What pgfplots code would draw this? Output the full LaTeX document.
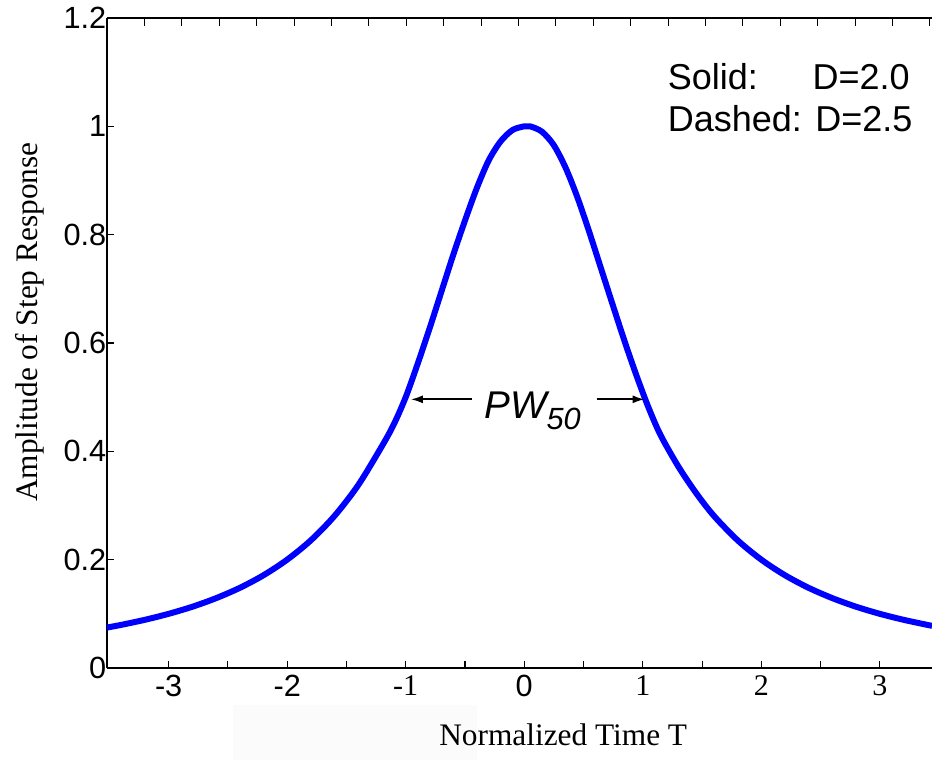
\documentclass[border=0pt]{standalone}
\usepackage{fontspec}
\setmainfont{Liberation Serif}
\setsansfont{Liberation Sans}
\usepackage{pgfplots}
\pgfplotsset{compat=1.18}
\usetikzlibrary{arrows.meta}

\newcommand{\tks}[1]{{\sffamily\fontsize{23}{23}\selectfont #1}}
\newcommand{\tkr}[1]{{\rmfamily\fontsize{22.5}{22.5}\selectfont #1}}

\begin{document}
\begin{tikzpicture}
\useasboundingbox (-80.25pt,-69pt) rectangle (618.75pt,501pt);
% faint grey patch under the x label
\fill[black!1.5] (94.5pt,-27.75pt) rectangle (277.5pt,-69pt);

\begin{axis}[
  scale only axis,
  width=618.75pt, height=487.5pt,
  xmin=-3.52, xmax=3.44,
  ymin=0, ymax=1.2,
  axis x line*=bottom, axis y line*=left,
  axis line style={-, line width=1.2pt},
  tick align=inside,
  major tick length=5pt,
  tick style={black, line width=0.8pt},
  xtick={-3,-2.5,...,3},
  xticklabels={\tks{-3},,\tks{-2},,\tkr{-1},,\tks{0},,\tkr{1},,\tkr{2},,\tkr{3}},
  ytick={0,0.2,0.4,0.6,0.8,1,1.2},
  yticklabels={\tks{0},\tks{0.2},\tks{0.4},\tks{0.6},\tks{0.8},\tks{1},\tks{1.2}},
  yticklabel style={xshift=3pt},
  xticklabel style={yshift=-2pt},
  xlabel={Normalized Time T},
  ylabel={Amplitude of Step Response},
  label style={font=\rmfamily\fontsize{23.5}{23.5}\selectfont},
  xlabel style={at={(axis description cs:0.553,-0.103)}, anchor=center},
  ylabel style={at={(axis description cs:-0.093,0.532)}, anchor=center},
  clip=false,
]
\addplot[blue, line width=4.5pt, line join=round, smooth] coordinates {
  (-3.52,0.0747) (-3.4,0.0796) (-3.2,0.0890) (-3.0,0.1000) (-2.8,0.1131)
  (-2.6,0.1289) (-2.4,0.1479) (-2.2,0.1712) (-2.0,0.2000) (-1.8,0.2358)
  (-1.6,0.2809) (-1.4,0.3378) (-1.2,0.4098) (-1.1,0.4500) (-1.0,0.5000)
  (-0.9,0.5610) (-0.8,0.6260) (-0.7,0.6940) (-0.6,0.7620) (-0.5,0.8260)
  (-0.4,0.8860) (-0.3,0.9370) (-0.2,0.9720) (-0.1,0.9930) (0.0,1.0000)
  (0.05,1.0000)
  (0.15,0.9900) (0.25,0.9650) (0.35,0.9230) (0.45,0.8680) (0.55,0.8040)
  (0.65,0.7360) (0.75,0.6680) (0.85,0.6010) (0.95,0.5380) (1.05,0.4800)
  (1.15,0.4300) (1.3,0.3720) (1.45,0.3230) (1.6,0.2809) (1.8,0.2358)
  (2.0,0.2000) (2.2,0.1712) (2.4,0.1479) (2.6,0.1289) (2.8,0.1131)
  (3.0,0.1000) (3.2,0.0890) (3.4,0.0796) (3.44,0.0779)
};
% PW50 annotation
\draw[-{Latex[length=9pt,width=6pt]}, line width=1.5pt] (axis cs:-0.443,0.496) -- (axis cs:-0.957,0.496);
\draw[-{Latex[length=9pt,width=6pt]}, line width=1.5pt] (axis cs:0.611,0.496) -- (axis cs:1.016,0.496);
\node[anchor=base, inner sep=0pt, font=\sffamily\itshape\fontsize{29}{29}\selectfont]
  at (axis cs:0.07,0.461) {PW\raisebox{-0.3em}{\fontsize{23}{23}\selectfont 50}};
% legend text
\node[anchor=base west, inner sep=0pt, font=\sffamily\fontsize{27}{27}\selectfont] at (axis cs:1.21,1.068) {Solid:};
\node[anchor=base west, inner sep=0pt, font=\sffamily\fontsize{27}{27}\selectfont] at (axis cs:2.43,1.068) {D=2.0};
\node[anchor=base west, inner sep=0pt, font=\sffamily\fontsize{27}{27}\selectfont] at (axis cs:1.21,0.991) {Dashed: D=2.5};
\end{axis}

% top frame line with its own finer ticks
\begin{axis}[
  scale only axis,
  width=618.75pt, height=487.5pt,
  xmin=0, xmax=22.06,
  ymin=0, ymax=1,
  axis x line*=top, axis y line=none,
  axis line style={-, line width=0.8pt},
  tick align=inside,
  major tick length=6pt,
  tick style={black, line width=0.6pt},
  xtick={1,...,22},
  xticklabels={},
  ytick=\empty,
]
\end{axis}
\end{tikzpicture}
\end{document}
